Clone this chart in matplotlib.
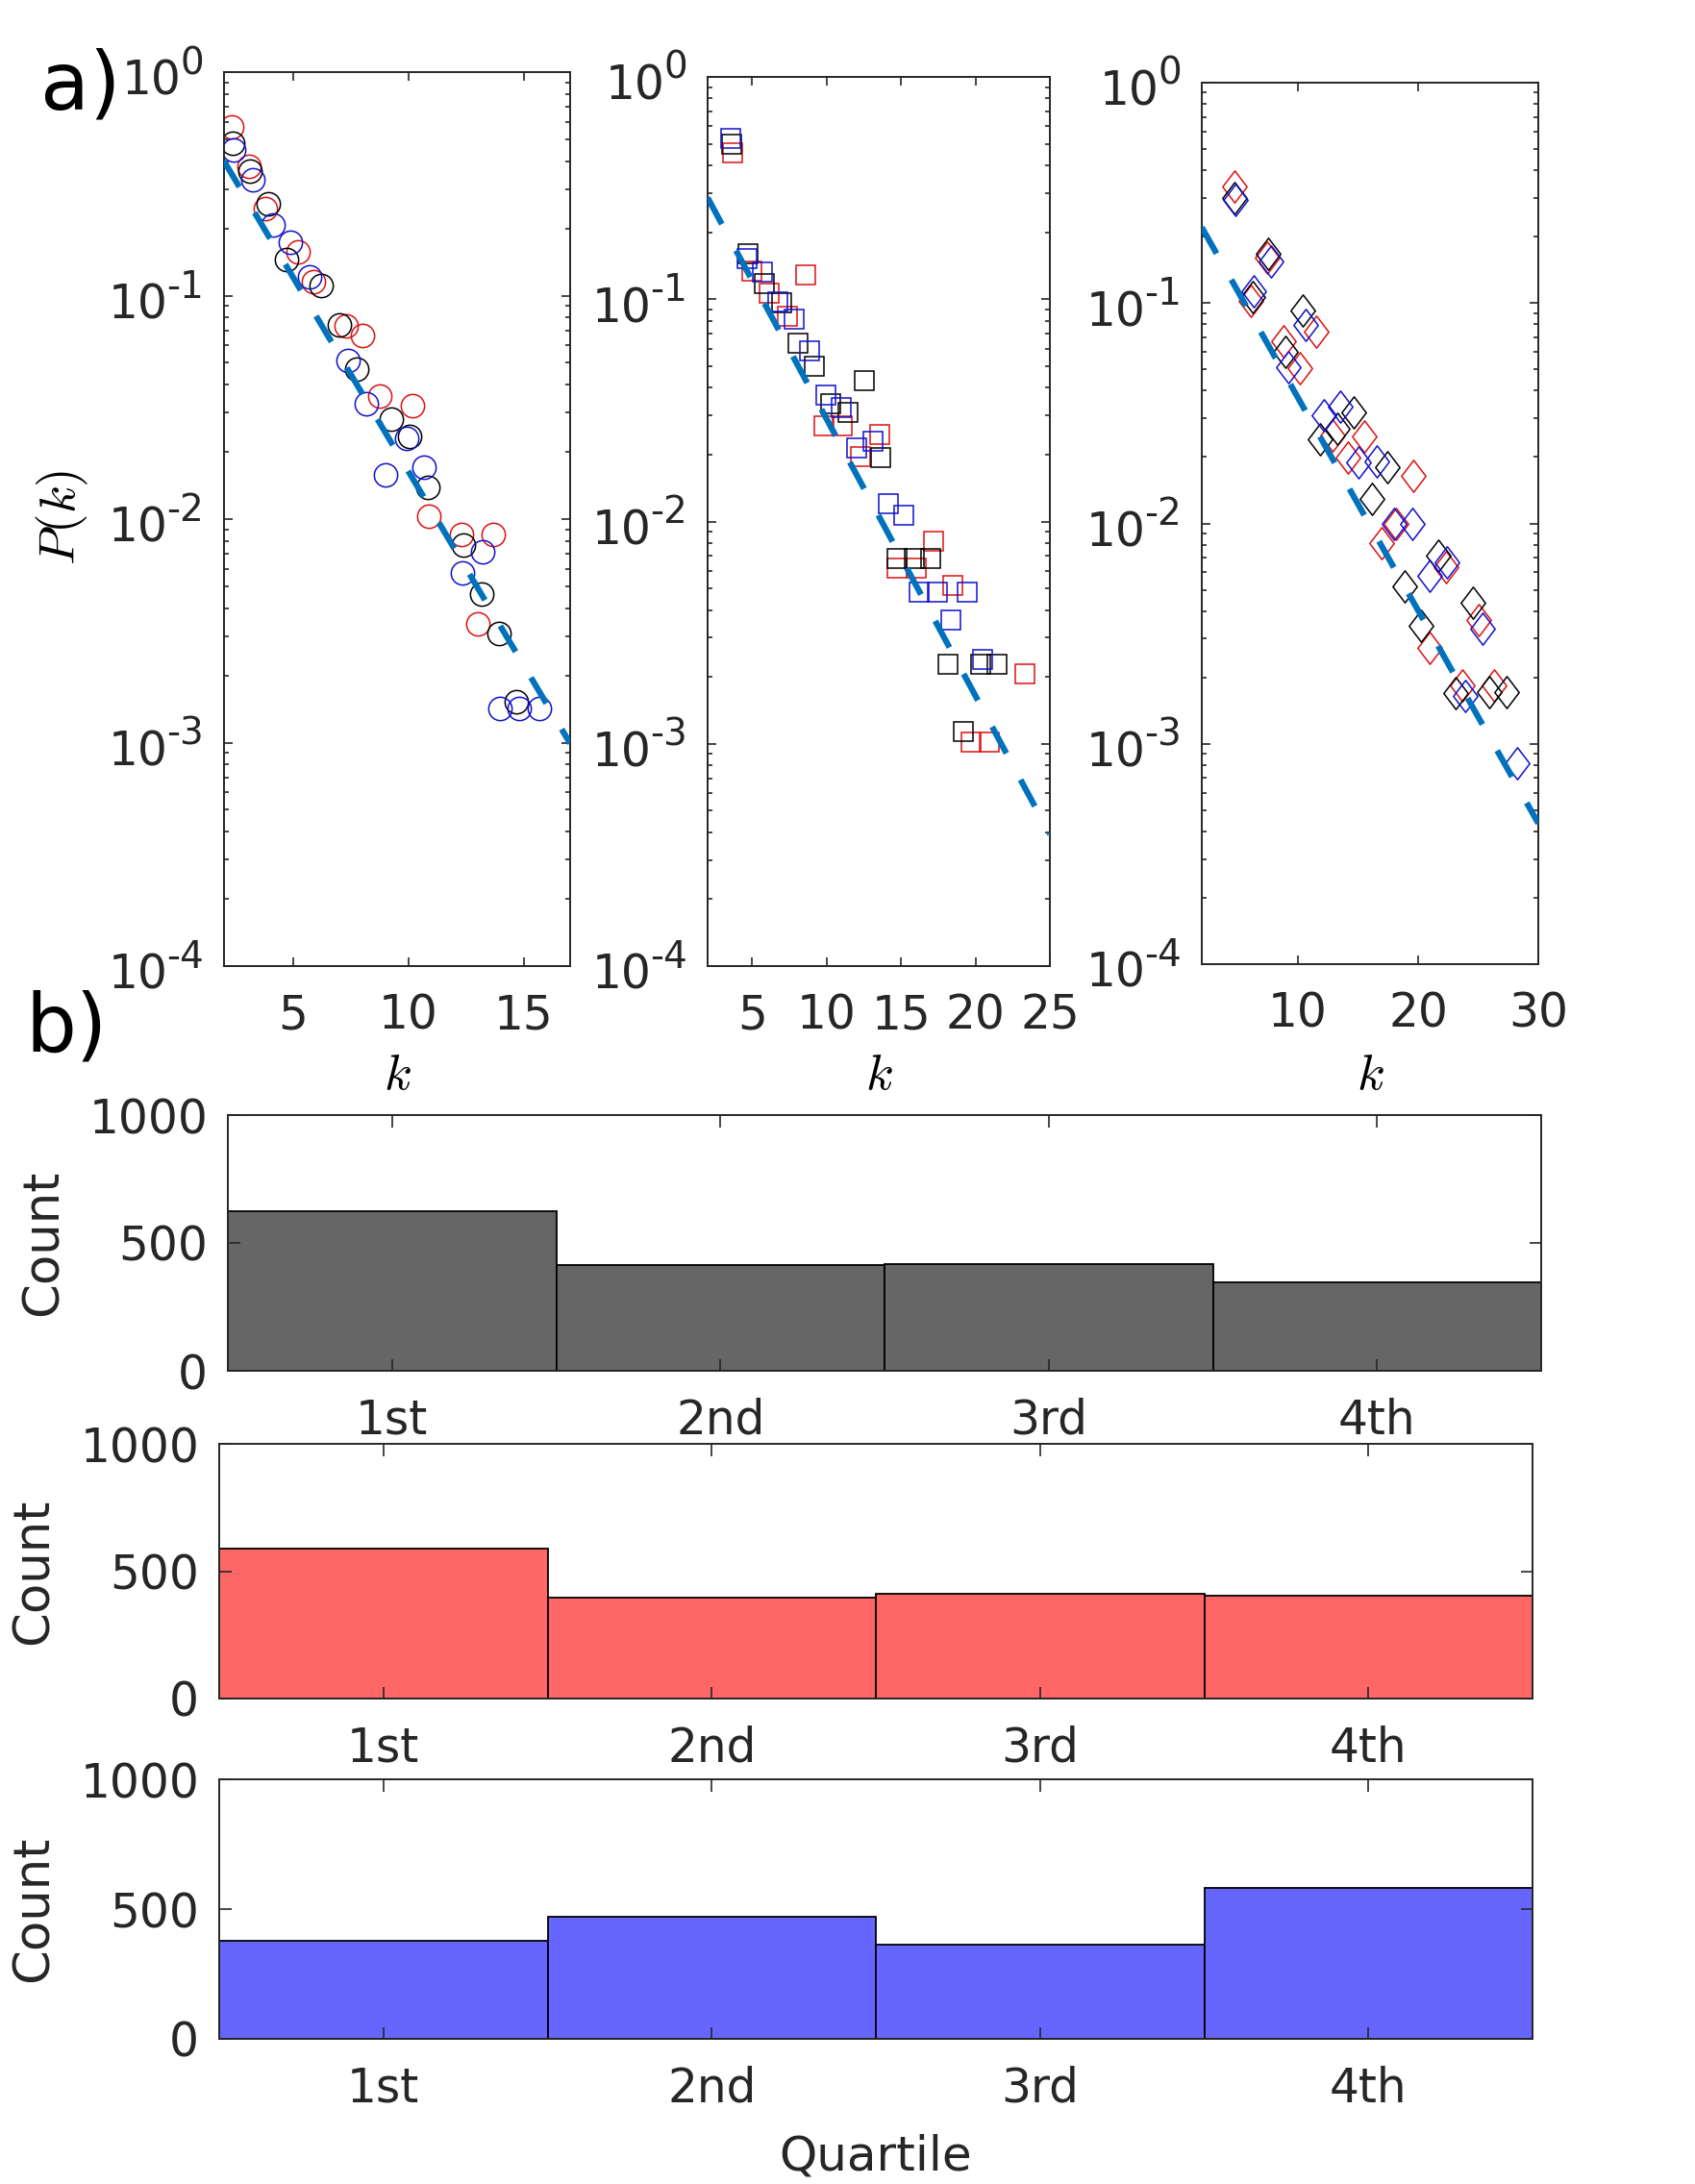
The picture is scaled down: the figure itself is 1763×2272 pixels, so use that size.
import numpy as np
import matplotlib
matplotlib.use("Agg")
import matplotlib.pyplot as plt
from matplotlib.path import Path
from matplotlib.ticker import LogLocator, NullFormatter, FixedLocator
from matplotlib.transforms import offset_copy

plt.rcParams['font.family'] = ['DejaVu Sans']
plt.rcParams['mathtext.fontset'] = 'cm'

# ---------------- data: panel a ----------------
# panel 1 (circles)
p1_red_k = [2.34, 3.07, 3.8, 5.21, 5.87, 7.3, 8.0, 8.74, 10.17, 10.87, 12.28, 12.98, 13.68]
p1_red_P = [0.57, 0.38, 0.246, 0.157, 0.116, 0.073, 0.0665, 0.0356, 0.0322, 0.0103, 0.00853, 0.0034, 0.00853]
p1_blk_k = [2.37, 3.14, 3.91, 4.7, 6.22, 6.99, 7.76, 9.27, 10.04, 10.84, 12.38, 13.15, 13.92, 14.66]
p1_blk_P = [0.48, 0.36, 0.257, 0.145, 0.111, 0.0738, 0.0468, 0.0279, 0.0234, 0.0139, 0.00767, 0.00463, 0.00309, 0.00153]
p1_blu_k = [2.4, 3.24, 4.12, 4.86, 5.7, 7.38, 8.18, 9.02, 9.9, 10.66, 12.35, 13.19, 13.96, 14.8, 15.67]
p1_blu_P = [0.45, 0.33, 0.208, 0.173, 0.121, 0.0515, 0.0328, 0.0157, 0.023, 0.0171, 0.00573, 0.00714, 0.00142, 0.00142, 0.00142]

# panel 2 (squares)
p2_red_k = [3.69, 4.94, 6.14, 7.36, 8.58, 9.81, 11.05, 12.27, 13.56, 14.74, 15.99, 17.21, 18.45, 19.68, 20.92, 23.33]
p2_red_P = [0.457, 0.134, 0.106, 0.0836, 0.129, 0.0269, 0.0269, 0.0195, 0.0247, 0.00616, 0.00616, 0.00816, 0.00514, 0.00102, 0.00102, 0.00206]
p2_blk_k = [3.63, 4.74, 5.84, 6.97, 8.09, 9.16, 10.28, 11.44, 12.53, 13.6, 14.74, 15.86, 17.0, 18.13, 19.2, 20.32, 21.44]
p2_blk_P = [0.50, 0.160, 0.118, 0.096, 0.0637, 0.0501, 0.0339, 0.0309, 0.0432, 0.0193, 0.00681, 0.00681, 0.00681, 0.00227, 0.00113, 0.00227, 0.00227]
p2_blu_k = [3.58, 4.66, 5.71, 6.74, 7.83, 8.86, 9.96, 10.97, 12.0, 13.11, 14.12, 15.15, 16.24, 17.42, 18.37, 19.42, 20.45]
p2_blu_P = [0.53, 0.153, 0.132, 0.097, 0.0817, 0.0588, 0.0372, 0.0325, 0.0215, 0.0229, 0.012, 0.0107, 0.00479, 0.00479, 0.00359, 0.00479, 0.0024]

# panel 3 (diamonds)
p3_red_k = [4.72, 6.08, 7.47, 8.83, 10.19, 11.55, 12.85, 14.13, 15.55, 16.93, 18.13, 19.6, 20.99, 22.35, 23.71, 25.07, 26.32]
p3_red_P = [0.338, 0.102, 0.16, 0.0673, 0.0506, 0.0744, 0.0251, 0.0199, 0.0247, 0.00818, 0.01, 0.0164, 0.00271, 0.00631, 0.00184, 0.00364, 0.00184]
p3_blk_k = [4.75, 6.21, 7.55, 8.99, 10.43, 11.87, 13.28, 14.67, 16.13, 17.47, 18.88, 20.27, 21.65, 23.12, 24.53, 25.95, 27.39]
p3_blk_P = [0.30, 0.107, 0.168, 0.0599, 0.0925, 0.0241, 0.0268, 0.032, 0.0129, 0.018, 0.00518, 0.00342, 0.00711, 0.0017, 0.00435, 0.00171, 0.00171]
p3_blu_k = [4.8, 6.32, 7.73, 9.2, 10.64, 12.13, 13.55, 15.07, 16.59, 18.0, 19.55, 20.99, 22.4, 23.95, 25.39, 28.27]
p3_blu_P = [0.293, 0.113, 0.154, 0.0509, 0.0795, 0.0309, 0.0339, 0.0189, 0.0191, 0.01, 0.01, 0.00581, 0.00666, 0.00165, 0.00333, 0.00082]

# exponential fits P = A * exp(-b k)
fit_A = [0.89, 0.508, 0.344]
fit_b = [0.40, 0.2867, 0.2224]

x_limits = [(2, 17), (2, 25), (2, 30)]
x_ticks = [[5, 10, 15], [5, 10, 15, 20, 25], [10, 20, 30]]
y_decades = [0, -1, -2, -3, -4]

# ---------------- data: panel b ----------------
quartiles = ['1st', '2nd', '3rd', '4th']
counts_gray = [625, 415, 418, 346]
counts_red = [589, 396, 411, 403]
counts_blue = [379, 472, 363, 581]

# ---------------- figure ----------------
W, H = 1763, 2272
fig = plt.figure(figsize=(W / 100, H / 100), dpi=100)

def rect(l, r, t, b):
    return [l / W, 1 - b / H, (r - l) / W, (b - t) / H]

AX_COL = '#262626'
RED = '#DD1111'
BLUE = '#1111CC'
BLK = '#000000'
FIT = '#0072BD'
TICK_FS = 35
EXP_FS = 28

diamond = Path([(0, 1), (0.76, 0), (0, -1), (-0.76, 0), (0, 1)],
               [Path.MOVETO, Path.LINETO, Path.LINETO, Path.LINETO, Path.CLOSEPOLY])

def style_axes(ax, major_len, minor_len):
    for s in ax.spines.values():
        s.set_color(AX_COL)
        s.set_linewidth(1.4)
    ax.tick_params(which='both', direction='in', top=True, right=True,
                   color=AX_COL, labelcolor=AX_COL, labelsize=TICK_FS, width=1.2)
    ax.tick_params(which='major', length=major_len)
    ax.tick_params(which='minor', length=minor_len)
    ax.tick_params(axis='x', pad=20)
    ax.tick_params(axis='y', pad=15)

a_rects = [rect(233, 593, 75, 1005), rect(736, 1092, 80, 1005), rect(1250, 1600, 86, 1003)]
series = [
    [(p1_red_k, p1_red_P, RED), (p1_blk_k, p1_blk_P, BLK), (p1_blu_k, p1_blu_P, BLUE)],
    [(p2_red_k, p2_red_P, RED), (p2_blk_k, p2_blk_P, BLK), (p2_blu_k, p2_blu_P, BLUE)],
    [(p3_red_k, p3_red_P, RED), (p3_blk_k, p3_blk_P, BLK), (p3_blu_k, p3_blu_P, BLUE)],
]
markers = [('o', 17.5), ('s', 15), (diamond, 24)]

for i in range(3):
    ax = fig.add_axes(a_rects[i])
    mk, ms = markers[i]
    for kk, pp, col in series[i]:
        ax.plot(kk, pp, linestyle='none', marker=mk, markersize=ms,
                markerfacecolor='none', markeredgecolor=col, markeredgewidth=1.1, zorder=2)
    xs = np.linspace(x_limits[i][0], x_limits[i][1], 200)
    ax.plot(xs, fit_A[i] * np.exp(-fit_b[i] * xs), color=FIT, lw=4.5,
            linestyle=(0, (5, 5)), dash_capstyle='butt', zorder=3)
    ax.set_yscale('log')
    ax.set_ylim(1e-4, 1)
    ax.set_xlim(*x_limits[i])
    ax.xaxis.set_major_locator(FixedLocator(x_ticks[i]))
    ax.set_xticklabels([str(t) for t in x_ticks[i]])
    ax.yaxis.set_major_locator(FixedLocator([10.0 ** d for d in y_decades]))
    ax.yaxis.set_minor_locator(LogLocator(base=10, subs=np.arange(2, 10), numticks=20))
    ax.yaxis.set_minor_formatter(NullFormatter())
    ax.set_yticklabels([])
    style_axes(ax, 6.5, 3.5)
    # MATLAB-style "10^-n" labels with a large superscript and a hyphen
    trans = offset_copy(ax.get_yaxis_transform(), fig=fig, x=-21 * 0.72, y=-2 * 0.72,
                        units='points')
    for d in y_decades:
        e = ax.text(0, 10.0 ** d, str(d).replace('-', '-'), transform=trans,
                    ha='right', va='baseline', fontsize=EXP_FS, color=AX_COL)
        ax.annotate('10', xy=(0, 0), xycoords=e, xytext=(1, -10), textcoords='offset points',
                    ha='right', va='baseline', fontsize=TICK_FS, color=AX_COL,
                    annotation_clip=False)
    cx = (a_rects[i][0] + a_rects[i][2] / 2)
    fig.text(cx, 1 - 1133 / H, '$k$', fontsize=38, ha='center', va='baseline')

fig.text(65 / W, 1 - 538 / H, '$P(k)$', fontsize=38, rotation=90,
         ha='center', va='center')
fig.text(42 / W, 1 - 113 / H, 'a)', fontsize=60, ha='left', va='baseline')
fig.text(26 / W, 1 - 1094 / H, 'b)', fontsize=60, ha='left', va='baseline')

b_rects = [rect(237, 1603, 1160, 1426), rect(228, 1594, 1502, 1767), rect(228, 1594, 1851, 2121)]
b_data = [(counts_gray, '#666666'), (counts_red, '#FF6666'), (counts_blue, '#6666FF')]
pos = np.arange(1, len(quartiles) + 1)
for i in range(3):
    ax = fig.add_axes(b_rects[i])
    vals, col = b_data[i]
    ax.bar(pos, vals, width=1.0, color=col, edgecolor='black', linewidth=1.3)
    ax.set_xlim(0.5, 4.5)
    ax.set_ylim(0, 1000)
    ax.set_xticks(pos)
    ax.set_xticklabels(quartiles)
    ax.set_yticks([0, 500, 1000])
    style_axes(ax, 9, 5)
    cy = b_rects[i][1] + b_rects[i][3] / 2
    xl = 46 if i == 0 else 36
    fig.text(xl / W, cy, 'Count', fontsize=37, rotation=90, ha='center', va='center',
             color=AX_COL)

fig.text(911 / W, 1 - 2257 / H, 'Quartile', fontsize=36, ha='center', va='baseline',
         color=AX_COL)

fig.savefig('out.png', dpi=100)
